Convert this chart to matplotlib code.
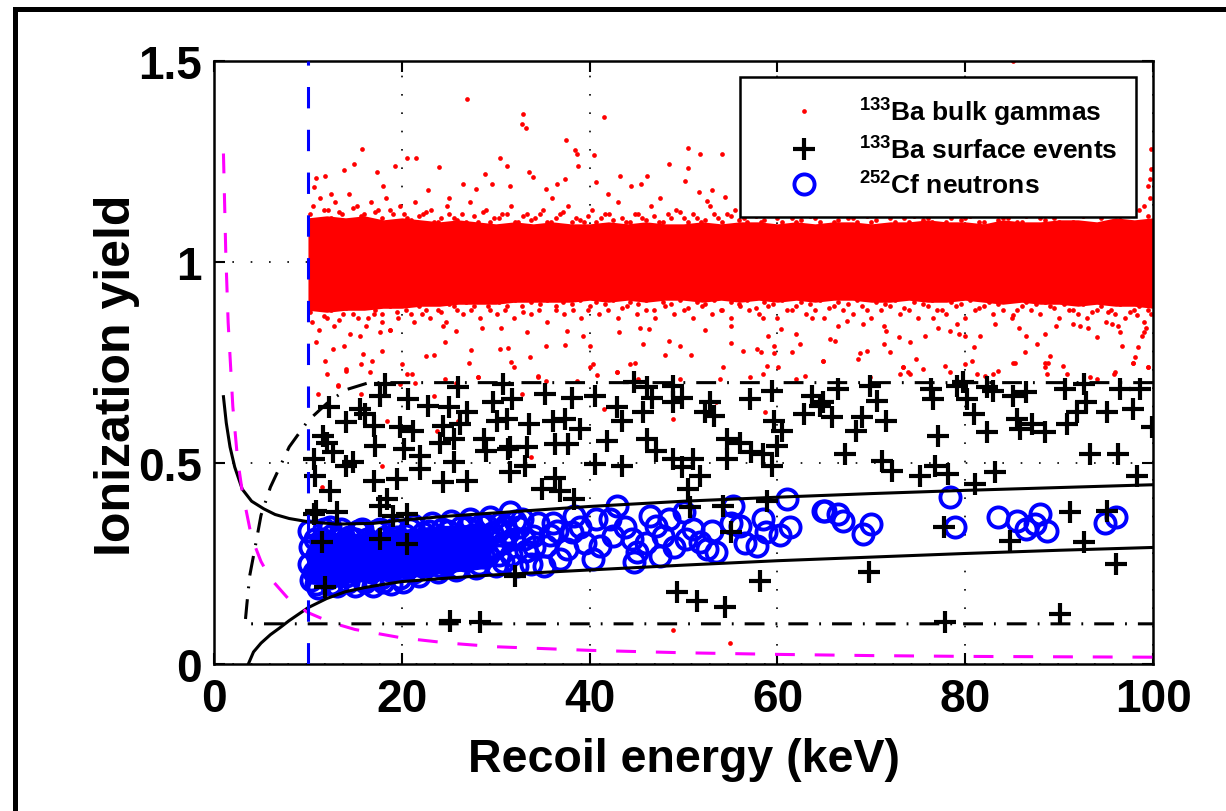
import numpy as np
import matplotlib
matplotlib.use('Agg')
import matplotlib.pyplot as plt
from matplotlib.patches import Rectangle

plt.rcParams['font.family'] = ['Liberation Sans', 'DejaVu Sans']
plt.rcParams['font.weight'] = 'bold'
plt.rcParams['mathtext.fontset'] = 'custom'
plt.rcParams['mathtext.rm'] = 'Liberation Sans:bold'
plt.rcParams['mathtext.bf'] = 'Liberation Sans:bold'
plt.rcParams['mathtext.it'] = 'Liberation Sans:bold'
plt.rcParams['mathtext.default'] = 'rm'

# --- 133Ba bulk gammas: solid core of the band (edges read every 2 keV) ---
band_x = np.arange(10, 101, 2)
band_hi = [1.11, 1.115, 1.11, 1.115, 1.105, 1.11, 1.105, 1.10, 1.105, 1.10,
           1.095, 1.10, 1.095, 1.10, 1.095, 1.095, 1.10, 1.095, 1.10, 1.095,
           1.095, 1.10, 1.095, 1.10, 1.10, 1.095, 1.10, 1.095, 1.10, 1.10,
           1.095, 1.10, 1.10, 1.105, 1.10, 1.10, 1.095, 1.105, 1.10, 1.10,
           1.105, 1.105, 1.10, 1.11, 1.105, 1.11]
band_lo = [0.88, 0.875, 0.88, 0.88, 0.885, 0.885, 0.89, 0.89, 0.895, 0.895,
           0.895, 0.90, 0.90, 0.90, 0.90, 0.905, 0.90, 0.905, 0.90, 0.905,
           0.905, 0.90, 0.905, 0.90, 0.905, 0.90, 0.905, 0.90, 0.905, 0.905,
           0.90, 0.90, 0.905, 0.90, 0.90, 0.905, 0.90, 0.895, 0.90, 0.895,
           0.895, 0.89, 0.895, 0.89, 0.89, 0.885]

# fringe and outlying gamma events
gamma_pts = [
    # upper fringe
    (10.5, 1.14), (11.3, 1.16), (12.1, 1.13), (12.9, 1.15), (13.6, 1.12), (14.4, 1.17),
    (15.2, 1.14), (16.0, 1.12), (16.7, 1.15), (17.5, 1.13), (18.3, 1.16), (19.1, 1.12),
    (19.8, 1.14), (20.6, 1.11), (21.4, 1.15), (22.2, 1.12), (23.1, 1.13), (23.9, 1.10),
    (24.8, 1.14), (25.6, 1.11), (26.4, 1.12), (27.3, 1.15), (28.1, 1.10), (29.0, 1.13),
    (29.8, 1.11), (30.7, 1.12), (31.6, 1.14), (32.4, 1.10), (33.3, 1.12), (34.2, 1.11),
    (35.0, 1.13), (35.9, 1.10), (36.8, 1.12), (37.7, 1.14), (38.5, 1.11), (39.4, 1.10),
    (40.3, 1.13), (41.2, 1.11), (42.1, 1.12), (43.0, 1.15), (43.9, 1.10), (44.8, 1.12),
    (45.6, 1.11), (46.5, 1.14), (47.4, 1.10), (48.3, 1.12), (49.2, 1.13), (50.1, 1.11),
    (51.0, 1.12), (51.9, 1.10), (52.8, 1.14), (53.7, 1.11), (54.6, 1.12), (55.5, 1.13),
    (56.4, 1.11), (57.3, 1.12), (58.2, 1.10), (59.1, 1.12), (60.0, 1.11), (61.0, 1.12),
    (62.0, 1.10), (63.0, 1.12), (64.0, 1.11), (65.0, 1.12), (66.0, 1.10), (67.0, 1.12),
    (68.0, 1.11), (69.0, 1.12), (70.0, 1.10), (71.0, 1.12), (72.0, 1.11), (73.0, 1.12),
    (74.0, 1.10), (75.0, 1.12), (76.0, 1.11), (77.0, 1.12), (78.0, 1.10), (79.0, 1.12),
    (80.0, 1.11), (81.0, 1.12), (82.0, 1.10), (83.0, 1.12), (84.0, 1.11), (85.0, 1.12),
    (86.0, 1.10), (87.0, 1.12), (88.0, 1.11), (89.0, 1.12), (90.0, 1.10), (91.0, 1.12),
    (92.0, 1.13), (93.0, 1.12), (94.0, 1.14), (95.0, 1.12), (96.0, 1.13), (97.0, 1.15),
    (98.0, 1.12), (99.0, 1.14), (99.7, 1.16),
    (10.2, 1.12), (11.0, 1.105), (11.7, 1.13), (12.5, 1.11), (13.3, 1.125), (14.0, 1.10),
    (14.8, 1.135), (15.6, 1.115), (16.4, 1.105), (17.1, 1.125), (17.9, 1.11), (18.7, 1.13),
    (19.5, 1.10), (20.2, 1.12), (21.0, 1.105), (21.8, 1.115), (22.6, 1.125), (23.4, 1.10),
    (24.2, 1.11), (25.0, 1.12), (25.9, 1.105), (26.8, 1.10), (27.7, 1.115), (28.6, 1.125),
    (29.4, 1.10), (30.3, 1.11), (31.2, 1.12), (32.0, 1.10), (32.9, 1.115), (33.8, 1.105),
    (34.7, 1.12), (35.5, 1.10), (36.4, 1.11), (37.2, 1.125), (38.1, 1.10), (39.0, 1.105),
    (39.8, 1.115), (40.7, 1.10), (41.6, 1.12), (42.5, 1.105), (43.4, 1.11), (44.3, 1.10),
    (45.1, 1.12), (46.0, 1.105), (46.9, 1.115), (47.8, 1.10), (48.7, 1.11), (49.6, 1.125),
    (50.5, 1.10), (51.4, 1.11), (52.3, 1.105), (53.2, 1.12), (54.1, 1.10), (55.0, 1.115),
    (55.9, 1.105), (56.8, 1.10), (57.7, 1.115), (58.6, 1.105), (59.5, 1.12), (60.5, 1.10),
    (61.5, 1.11), (62.5, 1.105), (63.5, 1.115), (64.5, 1.10), (65.5, 1.12), (66.5, 1.105),
    (67.5, 1.11), (68.5, 1.10), (69.5, 1.115), (70.5, 1.105), (71.5, 1.12), (72.5, 1.10),
    (73.5, 1.11), (74.5, 1.115), (75.5, 1.105), (76.5, 1.10), (77.5, 1.12), (78.5, 1.11),
    (79.5, 1.105), (80.5, 1.115), (81.5, 1.10), (82.5, 1.12), (83.5, 1.105), (84.5, 1.11),
    (85.5, 1.10), (86.5, 1.115), (87.5, 1.12), (88.5, 1.105), (89.5, 1.11), (90.5, 1.125),
    (91.5, 1.10), (92.5, 1.115), (93.5, 1.12), (94.5, 1.11), (95.5, 1.125), (96.5, 1.105),
    (97.5, 1.12), (98.5, 1.13), (99.5, 1.115),
    # lower fringe
    (10.4, 0.85), (11.2, 0.83), (12.0, 0.86), (12.8, 0.84), (13.7, 0.87), (14.5, 0.82),
    (15.3, 0.86), (16.2, 0.84), (17.0, 0.87), (17.9, 0.85), (18.7, 0.83), (19.6, 0.86),
    (20.4, 0.88), (21.3, 0.85), (22.1, 0.87), (23.0, 0.86), (23.8, 0.88), (24.7, 0.85),
    (25.6, 0.89), (26.5, 0.87), (27.4, 0.88), (28.3, 0.86), (29.2, 0.89), (30.1, 0.87),
    (31.0, 0.88), (31.9, 0.86), (32.8, 0.89), (33.7, 0.87), (34.6, 0.88), (35.5, 0.85),
    (36.4, 0.89), (37.3, 0.87), (38.2, 0.88), (39.1, 0.86), (40.0, 0.89), (41.0, 0.87),
    (42.0, 0.88), (43.0, 0.86), (44.0, 0.89), (45.0, 0.87), (46.0, 0.88), (47.0, 0.86),
    (48.0, 0.89), (49.0, 0.87), (50.0, 0.88), (51.0, 0.86), (52.0, 0.89), (53.0, 0.87),
    (54.0, 0.88), (55.0, 0.86), (56.0, 0.89), (57.0, 0.88), (58.0, 0.87), (59.0, 0.89),
    (60.0, 0.86), (61.0, 0.88), (62.0, 0.89), (63.0, 0.87), (64.0, 0.88), (65.0, 0.86),
    (66.0, 0.89), (67.0, 0.88), (68.0, 0.87), (69.0, 0.89), (70.0, 0.86), (71.0, 0.88),
    (72.0, 0.89), (73.0, 0.87), (74.0, 0.88), (75.0, 0.86), (76.0, 0.89), (77.0, 0.88),
    (78.0, 0.87), (79.0, 0.89), (80.0, 0.86), (81.0, 0.88), (82.0, 0.89), (83.0, 0.87),
    (84.0, 0.88), (85.0, 0.86), (86.0, 0.89), (87.0, 0.88), (88.0, 0.87), (89.0, 0.89),
    (90.0, 0.86), (91.0, 0.88), (92.0, 0.87), (93.0, 0.86), (94.0, 0.88), (95.0, 0.85),
    (96.0, 0.87), (97.0, 0.86), (98.0, 0.88), (99.0, 0.85), (99.8, 0.87),
    (10.2, 0.875), (11.0, 0.89), (11.7, 0.865), (12.5, 0.88), (13.3, 0.855), (14.0, 0.885),
    (14.8, 0.87), (15.6, 0.89), (16.4, 0.86), (17.1, 0.88), (17.9, 0.87), (18.7, 0.89),
    (19.5, 0.875), (20.2, 0.895), (21.0, 0.87), (21.8, 0.89), (22.6, 0.88), (23.4, 0.90),
    (24.2, 0.875), (25.0, 0.895), (25.9, 0.88), (26.8, 0.90), (27.7, 0.89), (28.6, 0.905),
    (29.4, 0.88), (30.3, 0.90), (31.2, 0.89), (32.0, 0.905), (32.9, 0.875), (33.8, 0.90),
    (34.7, 0.895), (35.5, 0.905), (36.4, 0.88), (37.2, 0.90), (38.1, 0.895), (39.0, 0.905),
    (39.8, 0.88), (40.7, 0.90), (41.6, 0.895), (42.5, 0.905), (43.4, 0.885), (44.3, 0.90),
    (45.1, 0.895), (46.0, 0.905), (46.9, 0.88), (47.8, 0.90), (48.7, 0.895), (49.6, 0.905),
    (50.5, 0.885), (51.4, 0.90), (52.3, 0.895), (53.2, 0.905), (54.1, 0.88), (55.0, 0.90),
    (55.9, 0.895), (56.8, 0.905), (57.7, 0.885), (58.6, 0.90), (59.5, 0.895), (60.5, 0.905),
    (61.5, 0.88), (62.5, 0.90), (63.5, 0.895), (64.5, 0.905), (65.5, 0.885), (66.5, 0.90),
    (67.5, 0.895), (68.5, 0.905), (69.5, 0.88), (70.5, 0.90), (71.5, 0.895), (72.5, 0.905),
    (73.5, 0.885), (74.5, 0.90), (75.5, 0.895), (76.5, 0.905), (77.5, 0.88), (78.5, 0.90),
    (79.5, 0.895), (80.5, 0.905), (81.5, 0.885), (82.5, 0.90), (83.5, 0.895), (84.5, 0.905),
    (85.5, 0.88), (86.5, 0.90), (87.5, 0.895), (88.5, 0.90), (89.5, 0.885), (90.5, 0.895),
    (91.5, 0.88), (92.5, 0.895), (93.5, 0.875), (94.5, 0.89), (95.5, 0.88), (96.5, 0.895),
    (97.5, 0.875), (98.5, 0.89), (99.5, 0.88),
    # sparse high
    (26.9, 1.405), (32.9, 1.368), (32.8, 1.343), (33.2, 1.333), (41.5, 1.362), (37.5, 1.303),
    (38.4, 1.279), (38.7, 1.269), (38.8, 1.238), (40.5, 1.267), (15.8, 1.281), (20.6, 1.259),
    (21.5, 1.260), (19.3, 1.240), (24.0, 1.236), (30.5, 1.259), (31.2, 1.240), (14.9, 1.244),
    (13.8, 1.230), (28.9, 1.219), (33.5, 1.223), (34.0, 1.211), (50.5, 1.284), (51.8, 1.269),
    (54.1, 1.269), (48.4, 1.244), (50.5, 1.233), (46.1, 1.215), (43.2, 1.215), (50.2, 1.202),
    (11.8, 1.213), (10.9, 1.210), (10.6, 1.186), (17.3, 1.223), (40.7, 1.198), (36.5, 1.195),
    (35.4, 1.182), (37.4, 1.206), (26.5, 1.194), (27.9, 1.182), (29.6, 1.194), (31.5, 1.190),
    (44.4, 1.190), (45.5, 1.195), (51.6, 1.175), (54.4, 1.161), (52.5, 1.152), (85.1, 1.50),
    (99.8, 1.281), (99.8, 1.231), (99.7, 1.206), (99.5, 1.19), (12.5, 1.17), (22.8, 1.18),
    (18.0, 1.19), (25.0, 1.16), (42.0, 1.17), (47.5, 1.16), (36.0, 1.16), (53.0, 1.18),
    # sparse low
    (10.9, 0.800), (11.8, 0.754), (12.0, 0.721), (13.2, 0.694), (14.1, 0.734), (15.9, 0.771),
    (16.8, 0.754), (16.6, 0.726), (17.9, 0.779), (20.0, 0.746), (20.5, 0.721), (22.6, 0.767),
    (23.4, 0.769), (24.6, 0.800), (27.4, 0.782), (27.2, 0.749), (28.1, 0.715), (30.5, 0.784),
    (31.3, 0.785), (31.6, 0.752), (33.6, 0.763), (34.5, 0.715), (35.4, 0.792), (37.4, 0.794),
    (40.0, 0.792), (40.4, 0.746), (40.8, 0.719), (42.9, 0.726), (44.3, 0.746), (44.8, 0.750),
    (45.7, 0.796), (48.0, 0.769), (49.6, 0.792), (50.8, 0.769), (54.2, 0.738), (48.4, 0.804),
    (52.3, 0.832), (46.3, 0.833), (45.4, 0.837), (43.1, 0.827), (37.6, 0.829), (39.3, 0.817),
    (33.3, 0.825), (30.6, 0.837), (28.5, 0.837), (25.8, 0.829), (24.4, 0.842), (17.7, 0.825),
    (18.7, 0.832), (15.5, 0.817), (13.8, 0.792), (12.7, 0.784),
    (55.1, 0.842), (55.1, 0.799), (56.3, 0.779), (57.8, 0.784), (58.3, 0.775), (58.5, 0.860),
    (59.0, 0.817), (59.6, 0.792), (59.6, 0.774), (60.4, 0.833), (61.5, 0.777), (62.0, 0.821),
    (62.4, 0.796), (64.9, 0.754), (63.7, 0.862), (65.6, 0.808), (66.1, 0.804), (66.5, 0.842),
    (67.4, 0.854), (68.8, 0.774), (69.5, 0.779), (68.6, 0.759), (69.1, 0.846), (71.3, 0.842),
    (71.6, 0.829), (71.3, 0.796), (72.0, 0.775), (72.9, 0.813), (74.1, 0.800), (74.8, 0.759),
    (73.4, 0.738), (74.1, 0.721), (75.7, 0.817), (76.6, 0.862), (77.1, 0.837), (78.4, 0.829),
    (79.1, 0.846), (79.3, 0.821), (80.0, 0.817), (80.9, 0.788), (80.0, 0.746), (81.6, 0.817),
    (83.2, 0.846), (83.5, 0.730), (85.1, 0.867), (85.7, 0.837), (85.3, 0.750), (86.5, 0.817),
    (86.4, 0.775), (87.6, 0.796), (88.5, 0.821), (89.0, 0.767), (88.8, 0.750), (88.5, 0.738),
    (89.7, 0.842), (90.4, 0.742), (91.5, 0.846), (92.2, 0.842), (93.1, 0.837), (94.0, 0.813),
    (95.2, 0.875), (95.6, 0.846), (96.3, 0.842), (96.5, 0.825), (96.7, 0.792), (96.0, 0.726),
    (97.9, 0.750), (98.1, 0.763), (98.4, 0.788), (98.8, 0.817), (99.0, 0.825), (99.3, 0.837),
    (99.5, 0.738), (98.3, 0.867),
    (14.1, 0.73), (15.7, 0.746), (21.1, 0.721), (28.1, 0.713), (11.1, 0.672), (13.2, 0.692),
    (15.7, 0.672), (23.4, 0.667), (23.7, 0.58), (26.0, 0.605), (17.9, 0.493), (11.5, 0.44),
    (19.8, 0.697), (21.4, 0.70), (24.6, 0.709), (25.8, 0.70), (18.4, 0.605),
    (31.9, 0.738), (34.5, 0.717), (35.4, 0.705), (38.6, 0.705), (40.0, 0.738), (42.9, 0.726),
    (45.2, 0.709), (49.6, 0.709), (53.9, 0.709), (57.1, 0.713), (58.5, 0.721), (58.9, 0.742),
    (60.1, 0.738), (62.0, 0.709), (62.9, 0.717), (64.9, 0.754), (48.9, 0.609), (53.5, 0.651),
    (58.7, 0.626), (41.5, 0.634), (33.7, 0.514), (32.8, 0.672), (48.9, 0.085), (54.9, 0.052),
    (73.1, 0.721), (73.4, 0.738), (73.9, 0.726), (75.5, 0.734), (77.8, 0.742), (78.4, 0.726),
    (80.7, 0.754), (81.2, 0.721), (82.1, 0.717), (83.0, 0.721), (85.1, 0.750), (88.5, 0.750),
    (88.7, 0.721), (90.8, 0.721), (93.3, 0.713), (94.0, 0.709), (95.8, 0.721), (97.9, 0.750),
    (99.5, 0.738), (69.9, 0.713),
]

# --- 133Ba surface events ---
surface_pts = [
    (18.2, 0.697), (26.0, 0.688), (30.8, 0.697), (12.2, 0.639), (15.5, 0.634), (16.1, 0.622),
    (17.7, 0.667), (20.7, 0.659), (22.8, 0.643), (25.0, 0.639), (26.9, 0.626), (29.7, 0.651),
    (31.7, 0.659), (14.1, 0.601), (17.0, 0.593), (19.8, 0.589), (21.2, 0.580), (24.4, 0.593),
    (26.2, 0.597), (30.1, 0.605), (11.6, 0.568), (12.0, 0.551), (17.1, 0.543), (20.2, 0.535),
    (21.9, 0.518), (24.1, 0.551), (25.5, 0.560), (28.7, 0.560), (29.0, 0.531), (31.5, 0.539),
    (10.6, 0.510), (12.7, 0.527), (14.1, 0.493), (14.8, 0.502), (17.0, 0.456), (19.5, 0.460),
    (21.9, 0.485), (24.4, 0.452), (25.5, 0.502), (26.9, 0.456), (31.5, 0.477), (10.8, 0.468),
    (12.4, 0.431), (10.6, 0.373), (13.1, 0.377), (17.7, 0.394), (18.4, 0.410), (19.1, 0.369),
    (20.5, 0.373), (11.5, 0.303), (17.7, 0.311), (20.5, 0.299), (11.8, 0.191), (25.1, 0.108),
    (28.3, 0.104), (32.1, 0.220), (10.9, 0.381),
    (35.2, 0.672), (38.1, 0.663), (40.6, 0.667), (44.7, 0.701), (46.1, 0.688), (46.6, 0.663),
    (48.9, 0.692), (49.8, 0.663), (52.8, 0.651), (52.3, 0.626), (57.1, 0.659), (59.4, 0.680),
    (63.7, 0.667), (64.5, 0.643), (31.2, 0.609), (33.5, 0.597), (36.1, 0.605), (37.4, 0.609),
    (39.0, 0.585), (42.9, 0.639), (43.4, 0.605), (45.7, 0.626), (48.9, 0.651), (53.2, 0.618),
    (59.6, 0.605), (60.5, 0.580), (62.8, 0.622), (31.3, 0.535), (33.3, 0.539), (36.3, 0.547),
    (37.7, 0.547), (41.8, 0.556), (46.1, 0.560), (47.1, 0.531), (48.9, 0.510), (51.0, 0.510),
    (54.6, 0.560), (56.0, 0.551), (57.2, 0.527), (58.5, 0.522), (59.9, 0.543), (33.1, 0.493),
    (40.6, 0.498), (43.4, 0.493), (49.8, 0.489), (51.8, 0.468), (54.6, 0.510), (59.4, 0.493),
    (34.9, 0.435), (36.3, 0.464), (36.8, 0.431), (38.3, 0.410), (50.5, 0.435), (50.7, 0.390),
    (54.2, 0.394), (58.9, 0.406), (55.0, 0.328), (58.1, 0.207), (49.3, 0.178), (51.4, 0.158),
    (54.4, 0.141),
    (64.9, 0.651), (66.5, 0.684), (65.8, 0.614), (69.9, 0.692), (70.6, 0.655), (69.0, 0.614),
    (68.4, 0.580), (71.6, 0.605), (67.2, 0.522), (71.1, 0.506), (72.2, 0.481), (75.2, 0.468),
    (76.8, 0.493), (78.2, 0.473), (77.1, 0.568), (76.3, 0.684), (76.6, 0.659), (79.1, 0.692),
    (79.8, 0.701), (80.2, 0.659), (80.9, 0.622), (82.3, 0.688), (82.3, 0.576), (83.0, 0.680),
    (83.2, 0.477), (81.0, 0.448), (85.1, 0.667), (85.5, 0.609), (85.8, 0.585), (86.5, 0.676),
    (87.1, 0.597), (88.5, 0.576), (90.8, 0.597), (90.6, 0.684), (91.9, 0.626), (92.6, 0.697),
    (92.9, 0.651), (93.3, 0.522), (95.1, 0.626), (96.5, 0.684), (96.3, 0.522), (97.9, 0.634),
    (98.6, 0.684), (99.9, 0.589), (98.3, 0.468), (91.2, 0.377), (95.1, 0.381), (77.7, 0.340),
    (84.8, 0.307), (92.6, 0.303), (69.7, 0.228), (96.1, 0.249), (77.8, 0.104), (90.1, 0.124),
]

# --- 252Cf neutrons: solid core of the low-energy cluster, then single events ---
blob_x = [10.1, 12.0, 14.0, 16.0, 18.0, 20.0, 22.0, 24.0, 26.0, 28.0, 29.5]
blob_lo = [0.20, 0.195, 0.20, 0.205, 0.21, 0.215, 0.22, 0.225, 0.23, 0.235, 0.24]
blob_hi = [0.325, 0.33, 0.325, 0.325, 0.33, 0.335, 0.34, 0.345, 0.345, 0.35, 0.345]

neutron_pts = [
    (10.1, 0.33), (10.2, 0.29), (10.1, 0.25), (10.3, 0.21), (10.8, 0.31), (11.0, 0.27),
    (11.2, 0.23), (11.1, 0.19), (11.7, 0.335), (11.9, 0.295), (12.0, 0.255), (12.2, 0.215),
    (12.6, 0.32), (12.8, 0.28), (13.0, 0.24), (13.1, 0.195), (13.5, 0.335), (13.7, 0.30),
    (13.9, 0.26), (14.0, 0.22), (14.4, 0.315), (14.6, 0.275), (14.8, 0.235), (15.0, 0.195),
    (15.3, 0.33), (15.5, 0.29), (15.7, 0.25), (15.9, 0.21), (16.3, 0.31), (16.5, 0.27),
    (16.7, 0.23), (16.9, 0.195), (17.2, 0.33), (17.4, 0.29), (17.6, 0.255), (17.8, 0.215),
    (18.2, 0.315), (18.4, 0.275), (18.6, 0.235), (18.8, 0.20), (19.2, 0.335), (19.4, 0.295),
    (19.6, 0.255), (19.8, 0.215), (20.3, 0.32), (20.5, 0.28), (20.7, 0.24), (21.2, 0.345),
    (21.4, 0.30), (21.6, 0.26), (21.8, 0.22), (22.3, 0.325), (22.5, 0.285), (22.7, 0.245),
    (23.2, 0.35), (23.4, 0.31), (23.6, 0.27), (23.8, 0.23), (24.3, 0.335), (24.5, 0.29),
    (24.7, 0.25), (25.2, 0.355), (25.4, 0.315), (25.6, 0.275), (25.8, 0.235), (26.3, 0.34),
    (26.5, 0.30), (26.7, 0.26), (27.3, 0.36), (27.5, 0.32), (27.7, 0.28), (27.9, 0.24),
    (28.4, 0.345), (28.6, 0.305), (28.8, 0.265), (29.4, 0.365), (29.6, 0.325), (29.8, 0.285),
    (30.0, 0.245), (30.5, 0.35), (30.8, 0.30), (32.5, 0.34), (33.2, 0.28), (32.8, 0.36),
    (34.5, 0.35), (33.8, 0.25),
    (10.6, 0.23), (10.9, 0.20), (11.5, 0.31), (11.4, 0.25), (12.3, 0.34), (12.4, 0.27),
    (12.5, 0.20), (13.3, 0.31), (13.4, 0.225), (14.2, 0.285), (14.3, 0.205), (15.0, 0.31),
    (15.2, 0.235), (15.8, 0.335), (16.0, 0.27), (16.1, 0.205), (16.8, 0.30), (17.0, 0.24),
    (17.7, 0.335), (17.9, 0.27), (18.0, 0.205), (18.7, 0.295), (18.9, 0.245), (19.5, 0.315),
    (19.9, 0.235), (20.1, 0.205), (20.9, 0.335), (21.0, 0.265), (21.3, 0.23), (22.0, 0.305),
    (22.1, 0.245), (22.9, 0.33), (23.0, 0.26), (23.9, 0.30), (24.1, 0.245), (24.9, 0.33),
    (25.0, 0.255), (25.9, 0.315), (26.1, 0.24), (26.9, 0.34), (27.1, 0.27), (28.0, 0.31),
    (28.2, 0.25), (29.0, 0.345), (29.2, 0.27), (30.2, 0.33), (30.3, 0.27), (31.3, 0.325),
    (31.6, 0.27), (32.0, 0.355), (32.3, 0.245), (33.0, 0.31), (34.1, 0.29), (35.8, 0.32),
    (36.5, 0.33), (39.0, 0.34), (39.5, 0.30), (43.8, 0.34), (44.5, 0.31), (46.0, 0.30),
    (48.5, 0.36), (49.0, 0.29), (53.0, 0.33), (56.5, 0.30), (60.3, 0.32),
    (31.5, 0.377), (31.0, 0.344), (31.9, 0.311), (30.8, 0.253), (34.0, 0.319), (35.4, 0.294),
    (35.1, 0.245), (36.1, 0.352), (38.3, 0.369), (38.1, 0.328), (37.6, 0.286), (36.8, 0.261),
    (40.7, 0.361), (41.1, 0.294), (40.4, 0.261), (42.9, 0.394), (42.2, 0.361), (42.5, 0.319),
    (45.0, 0.278), (44.7, 0.253), (46.4, 0.369), (47.1, 0.344), (47.8, 0.319), (47.5, 0.269),
    (50.0, 0.377), (50.3, 0.311), (51.0, 0.336), (51.8, 0.303), (52.5, 0.286), (53.5, 0.278),
    (55.3, 0.394), (55.0, 0.352), (56.0, 0.344), (57.8, 0.294), (58.5, 0.361), (58.8, 0.328),
    (61.0, 0.410), (61.3, 0.340), (64.9, 0.381),
    (65.1, 0.381), (66.5, 0.373), (67.0, 0.357), (70.0, 0.348), (69.1, 0.323), (78.4, 0.415),
    (78.9, 0.340), (83.5, 0.365), (85.5, 0.357), (86.5, 0.336), (88.0, 0.373), (87.4, 0.348),
    (88.7, 0.332), (94.9, 0.352), (96.1, 0.365),
]

# --- analysis curves ---
nr_hi_x = [1.0, 1.3, 1.7, 2.2, 3.0, 4.0, 5.3, 6.5, 8.0, 10.0, 13.0, 17.0, 20.0, 25.0,
           30.0, 40.0, 50.0, 60.0, 70.0, 80.0, 90.0, 100.0]
nr_hi_y = [0.665, 0.60, 0.54, 0.49, 0.435, 0.405, 0.386, 0.372, 0.362, 0.354, 0.348, 0.350,
           0.358, 0.368, 0.376, 0.392, 0.405, 0.415, 0.424, 0.432, 0.439, 0.446]
nr_lo_x = [3.65, 4.2, 5.0, 6.0, 7.0, 8.0, 10.0, 12.0, 14.0, 16.0, 18.0, 20.0, 25.0,
           30.0, 40.0, 50.0, 60.0, 70.0, 80.0, 90.0, 100.0]
nr_lo_y = [0.0, 0.03, 0.052, 0.073, 0.09, 0.108, 0.14, 0.163, 0.18, 0.19, 0.198, 0.205,
           0.214, 0.222, 0.234, 0.246, 0.257, 0.266, 0.275, 0.283, 0.29]
thr_x = [1.0, 1.25, 1.5, 2.0, 2.5, 3.0, 4.0, 5.0, 6.0, 8.0, 10.0, 12.5, 15.0, 20.0, 25.0,
         30.0, 40.0, 50.0, 60.0, 70.0, 80.0, 90.0, 100.0]
thr_y = [1.27, 1.02, 0.85, 0.64, 0.51, 0.43, 0.315, 0.255, 0.213, 0.16, 0.128, 0.103,
         0.086, 0.065, 0.052, 0.043, 0.034, 0.028, 0.024, 0.021, 0.019, 0.018, 0.017]
surf_cut_x = [100.0, 16.5, 14.0, 12.0, 10.0, 8.0, 6.0, 5.0, 4.4, 3.8, 3.5, 3.3, 100.0]
surf_cut_y = [0.70, 0.70, 0.682, 0.648, 0.605, 0.54, 0.44, 0.37, 0.294, 0.22, 0.15, 0.10, 0.10]
e_threshold = 10.0

gx, gy = np.array(gamma_pts).T
sx, sy = np.array(surface_pts).T
nx, ny = np.array(neutron_pts).T

fig = plt.figure(figsize=(12.26, 8.12), dpi=100)
ax = fig.add_axes([0.1746, 0.181, 0.7659, 0.7426])

ax.fill_between(band_x, band_lo, band_hi, color='red', lw=0, zorder=2)
h_g, = ax.plot(gx, gy, 'o', color='red', ms=3.4, mew=0, zorder=2,
               label=r'$^{133}$Ba bulk gammas')
ax.fill_between(blob_x, blob_lo, blob_hi, color='blue', lw=0, zorder=3)
h_n, = ax.plot(nx, ny, 'o', mfc='none', mec='blue', ms=14.5, mew=2.8, zorder=3,
               label=r'$^{252}$Cf neutrons')
h_s, = ax.plot(sx, sy, '+', color='black', ms=16, mew=3, zorder=4,
               label=r'$^{133}$Ba surface events')

ax.plot(nr_hi_x, nr_hi_y, color='black', lw=2.2, zorder=5)
ax.plot(nr_lo_x, nr_lo_y, color='black', lw=2.2, zorder=5)
ax.plot(thr_x, thr_y, color='magenta', lw=2.2, dashes=(6.5, 6.5), zorder=5)
ax.plot(surf_cut_x, surf_cut_y, color='black', lw=2.2, dashes=(6.5, 3.6, 0.6, 3.6), zorder=5)
ax.plot([e_threshold, e_threshold], [0, 1.5], color='blue', lw=2.2, dashes=(7, 7), zorder=6)

ax.set_xlim(0, 100)
ax.set_ylim(0, 1.5)
ax.set_xticks([0, 20, 40, 60, 80, 100])
ax.set_yticks([0, 0.5, 1, 1.5])
ax.set_yticklabels(['0', '0.5', '1', '1.5'])
ax.grid(True, color='black', linestyle=(0, (1, 10)), linewidth=1.2, zorder=0)
ax.set_axisbelow(True)
ax.tick_params(direction='in', length=8, width=1.5, labelsize=33, pad=9,
               top=True, right=True)
for sp in ax.spines.values():
    sp.set_linewidth(1.8)

ax.set_xlabel('Recoil energy (keV)', fontsize=33.5, fontweight='bold', labelpad=12)
ax.set_ylabel('Ionization yield', fontsize=36, fontweight='bold', labelpad=-2)
ax.yaxis.label.set_y(0.48)

leg = ax.legend(handles=[h_g, h_s, h_n], loc='upper right', bbox_to_anchor=(0.982, 0.973),
                borderaxespad=0, fontsize=19, frameon=True, fancybox=False,
                edgecolor='black', borderpad=0.7, handlelength=3.4, handletextpad=0.4,
                labelspacing=0.3, framealpha=1)
leg.get_frame().set_linewidth(1.8)
leg.set_zorder(10)

# outer frame of the figure
fig.patches.append(Rectangle((14.5 / 1226, -0.1), 1.2, 1.1 - 9.5 / 812,
                             transform=fig.transFigure, fill=False, edgecolor='black',
                             lw=3.6, clip_on=False))

fig.savefig('out.png', dpi=100)
